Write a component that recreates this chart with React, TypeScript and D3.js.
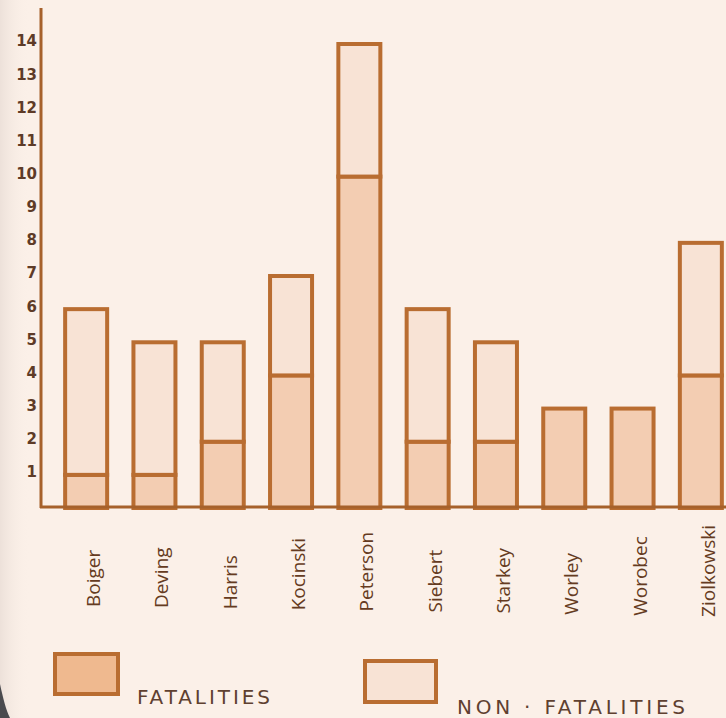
import React, { useEffect, useRef } from "react"
import * as d3 from "d3"

const names = ["Boiger", "Deving", "Harris", "Kocinski", "Peterson", "Siebert", "Starkey", "Worley", "Worobec", "Ziolkowski"]
const fatalities = [1, 1, 2, 4, 10, 2, 2, 3, 3, 4]
const nonFatalities = [5, 4, 3, 3, 4, 4, 3, 0, 0, 4]
const yTicks = [1, 2, 3, 4, 5, 6, 7, 8, 9, 10, 11, 12, 13, 14]
const legendLabels = ["FATALITIES", "NON · FATALITIES"]

const W = 726
const H = 718

export default function App() {
  const ref = useRef<SVGSVGElement>(null)

  useEffect(() => {
    const svg = d3.select(ref.current)
    svg.selectAll("*").remove()

    const stroke = "#b96d31"
    const fatalFill = "#f3cdb2"
    const nonFill = "#f8e3d5"
    const textCol = "#653b21"

    // paper
    svg.append("rect").attr("width", W).attr("height", H).attr("fill", "#fbf0e8")
    const defs = svg.append("defs")
    const grad = defs.append("linearGradient").attr("id", "edge").attr("x1", 0).attr("x2", 1)
    grad.append("stop").attr("offset", 0).attr("stop-color", "#e9ddd6").attr("stop-opacity", 0.8)
    grad.append("stop").attr("offset", 1).attr("stop-color", "#fbf0e8").attr("stop-opacity", 0)
    svg.append("rect").attr("width", 30).attr("height", H).attr("fill", "url(#edge)")
    svg.append("path")
      .attr("d", "M0,684 C3,698 6,710 10,718 L0,718 Z")
      .attr("fill", "#4a4a4e")

    const x = d3.scaleBand<string>()
      .domain(names)
      .range([52, 735])
      .paddingInner(0.385)
      .paddingOuter(0.1925)

    const y = d3.scaleLinear().domain([0, 14]).range([508, 44])

    // category labels (drawn first so bars hide any overflow)
    svg.append("g")
      .attr("font-family", "'Open Sans', sans-serif")
      .attr("font-size", 19)
      .attr("fill", textCol)
      .selectAll("text")
      .data(names)
      .join("text")
      .attr("transform", (d, i) => `translate(${x(d)! + x.bandwidth() / 2 + 14},${607 + i * 1.1}) rotate(-90)`)
      .text(d => d)

    // y tick labels
    svg.append("g")
      .attr("font-family", "'DejaVu Sans', sans-serif")
      .attr("font-weight", "bold")
      .attr("font-size", 15)
      .attr("fill", "#5e3b27")
      .attr("text-anchor", "end")
      .selectAll("text")
      .data(yTicks)
      .join("text")
      .attr("x", 37)
      .attr("y", d => y(d) - 3)
      .attr("dy", "0.36em")
      .text(d => d)

    const rows = names.map((n, i) => ({ name: n, f: fatalities[i], nf: nonFatalities[i] }))

    const bars = svg.append("g").selectAll("g").data(rows).join("g")
    bars.append("rect")
      .attr("x", d => x(d.name)!)
      .attr("width", x.bandwidth())
      .attr("y", d => y(d.f))
      .attr("height", d => y(0) - y(d.f))
      .attr("fill", fatalFill)
      .attr("stroke", stroke)
      .attr("stroke-width", 4)
    bars.filter(d => d.nf > 0).append("rect")
      .attr("x", d => x(d.name)!)
      .attr("width", x.bandwidth())
      .attr("y", d => y(d.f + d.nf))
      .attr("height", d => y(d.f) - y(d.f + d.nf))
      .attr("fill", nonFill)
      .attr("stroke", stroke)
      .attr("stroke-width", 4)

    // axes
    svg.append("line")
      .attr("x1", 41).attr("x2", 41).attr("y1", 8).attr("y2", 508)
      .attr("stroke", "#a6612b").attr("stroke-width", 3)
    svg.append("line")
      .attr("x1", 40).attr("x2", W).attr("y1", 507).attr("y2", 507)
      .attr("stroke", "#a6612b").attr("stroke-width", 3)

    // legend
    svg.append("rect")
      .attr("x", 55).attr("y", 654).attr("width", 63).attr("height", 40)
      .attr("fill", "#efb98f").attr("stroke", stroke).attr("stroke-width", 4)
    svg.append("rect")
      .attr("x", 365).attr("y", 661).attr("width", 71).attr("height", 41)
      .attr("fill", nonFill).attr("stroke", stroke).attr("stroke-width", 4)

    const legendPos = [
      { x: 137, y: 704, len: 133 },
      { x: 457, y: 714, len: 228 }
    ]
    svg.append("g")
      .attr("font-family", "'DejaVu Sans', sans-serif")
      .attr("font-size", 20)
      .attr("fill", "#5f4030")
      .selectAll("text")
      .data(legendLabels)
      .join("text")
      .attr("x", (d, i) => legendPos[i].x)
      .attr("y", (d, i) => legendPos[i].y)
      .attr("textLength", (d, i) => legendPos[i].len)
      .attr("lengthAdjust", "spacing")
      .text(d => d)
  }, [])

  return (
    <div style={{ position: "absolute", left: 0, top: 0, width: W, height: H }}>
      <svg ref={ref} width={W} height={H} style={{ display: "block" }} />
    </div>
  )
}
